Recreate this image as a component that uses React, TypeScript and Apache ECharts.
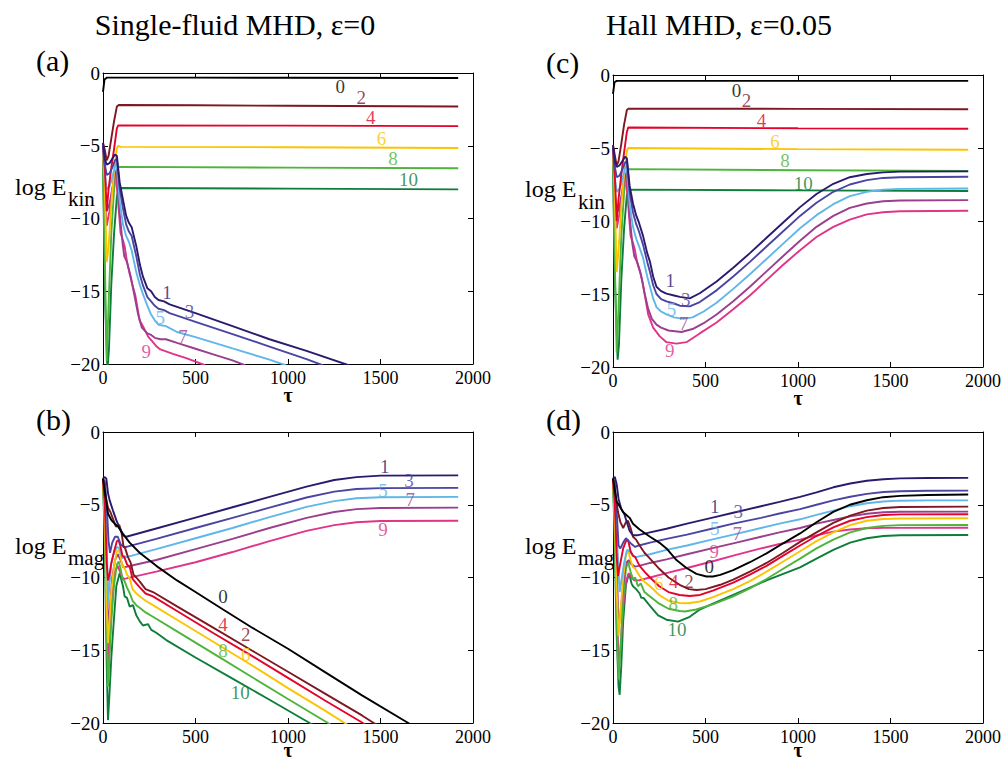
import React, { useEffect, useRef } from "react";
import * as echarts from "echarts";

const FONT = "Liberation Serif";

// colours of modes 0..10
const modeColors = [
  "#000000", "#2b1a6e", "#7d1822", "#4a44a2", "#e4032b", "#5fb6ea",
  "#fbc400", "#9a3e8e", "#4db43c", "#e03488", "#0e7d3a",
];

const xTicks = { min: 0, max: 2000, interval: 500 };
const yTicks = { min: -20, max: 0, interval: 5 };

const panelTitles = ["Single-fluid MHD, \u03b5=0", "Hall MHD, \u03b5=0.05"];
const panelLetters = ["(a)", "(b)", "(c)", "(d)"];

type Pt = [number, number];

// (a) log E_kin, single-fluid MHD, modes 0..10
const kinSingle: Pt[][] = [
  [[0,-1.3],[8,-0.45],[20,-0.32],[500,-0.32],[1000,-0.33],[1920,-0.34]],
  [[0,-4.8],[10,-5.9],[20,-6.3],[35,-6.2],[50,-5.9],[65,-5.6],[75,-5.7],[90,-7.5],[108,-8.7],[125,-9.8],[140,-10.3],[155,-10.6],[180,-11.9],[200,-13.2],[216,-14.0],[240,-14.8],[260,-15.0],[280,-15.4],[300,-15.6],[330,-15.7],[360,-15.9],[500,-16.5],[700,-17.4],[900,-18.3],[1100,-19.1],[1320,-20.05],[1360,-20.3]],
  [[0,-4.8],[10,-5.3],[20,-6.0],[30,-5.7],[45,-4.5],[60,-3.3],[75,-2.3],[85,-2.2],[500,-2.22],[1000,-2.25],[1920,-2.3]],
  [[0,-5.0],[10,-6.3],[20,-7.0],[35,-6.9],[50,-6.5],[65,-6.0],[75,-5.9],[90,-7.9],[108,-9.3],[125,-10.4],[140,-10.9],[155,-11.2],[180,-12.6],[200,-13.9],[216,-14.6],[240,-15.4],[260,-15.7],[280,-16.0],[300,-16.2],[330,-16.3],[360,-16.5],[500,-17.1],[700,-17.95],[900,-18.8],[1100,-19.66],[1180,-20.05],[1220,-20.3]],
  [[0,-5.0],[10,-6.5],[20,-9.5],[30,-8.0],[45,-6.5],[60,-5.2],[75,-3.8],[82,-3.6],[1000,-3.62],[1920,-3.65]],
  [[0,-5.2],[10,-7.0],[20,-8.0],[35,-7.8],[50,-7.2],[65,-6.4],[75,-6.2],[90,-8.8],[108,-10.4],[125,-11.2],[140,-11.6],[155,-12.2],[180,-13.7],[200,-14.6],[216,-15.2],[240,-16.0],[260,-16.6],[280,-17.0],[300,-17.3],[340,-17.4],[400,-17.8],[500,-18.15],[700,-18.93],[900,-19.7],[980,-20.05],[1020,-20.3]],
  [[0,-5.3],[10,-8],[20,-13],[30,-12],[45,-9],[60,-6.8],[75,-5.2],[82,-5.0],[95,-5.08],[1000,-5.1],[1920,-5.15]],
  [[0,-5.3],[10,-8],[20,-9.5],[35,-9],[50,-8],[65,-7],[75,-6.6],[90,-9.6],[105,-11.6],[115,-12.6],[130,-13.0],[150,-14.0],[170,-15.3],[190,-16.6],[210,-17.5],[240,-17.9],[260,-18.0],[280,-18.2],[310,-18.3],[340,-18.3],[400,-18.55],[500,-18.95],[600,-19.35],[700,-19.75],[760,-20.05],[800,-20.3]],
  [[0,-6.0],[10,-13],[20,-19.8],[30,-16],[45,-11],[60,-8],[75,-6.6],[85,-6.45],[1000,-6.5],[1920,-6.55]],
  [[0,-5.5],[10,-8.5],[20,-10.5],[35,-9.5],[50,-8],[62,-6.9],[70,-7.2],[81,-8.7],[95,-11.0],[108,-11.5],[117,-11.9],[130,-13.0],[144,-13.8],[160,-14.6],[175,-15.3],[198,-17.0],[216,-17.4],[243,-18.1],[270,-18.5],[290,-18.8],[310,-19.0],[378,-19.3],[450,-19.6],[545,-20.05],[580,-20.3]],
  [[0,-6.5],[12,-16],[24,-20.4],[32,-19],[45,-14.5],[60,-11],[75,-8.5],[85,-7.9],[1000,-7.95],[1920,-8.0]],
];

// (b) log E_mag, single-fluid MHD
const magSingle: Pt[][] = [
  [[0,-3.2],[27,-5.6],[45,-6.05],[63,-6.3],[81,-6.5],[108,-7.0],[144,-7.6],[198,-8.3],[288,-9.2],[400,-10.2],[500,-11.0],[649,-12.2],[800,-13.4],[1000,-14.9],[1200,-16.5],[1400,-18.1],[1650,-20.0],[1700,-20.4]],
  [[0,-3.2],[10,-3.1],[18,-3.2],[27,-4.2],[36,-4.7],[54,-5.4],[72,-6.06],[90,-6.6],[108,-7.1],[126,-7.2],[288,-6.63],[500,-5.88],[700,-5.17],[900,-4.46],[1100,-3.75],[1250,-3.3],[1370,-3.1],[1500,-3.0],[1920,-2.98]],
  [[0,-3.2],[15,-4.5],[27,-5.2],[40,-5.5],[55,-6.0],[70,-6.5],[88,-6.4],[100,-6.9],[110,-7.8],[120,-8.0],[135,-8.6],[150,-9.0],[165,-9.8],[180,-10.0],[200,-10.3],[230,-10.8],[270,-11.0],[400,-11.98],[600,-13.48],[800,-14.98],[1000,-16.48],[1200,-17.98],[1400,-19.48],[1470,-20.05],[1510,-20.3]],
  [[0,-3.2],[10,-3.4],[20,-5],[30,-7.5],[38,-8.3],[50,-7.6],[65,-7.2],[80,-7.2],[95,-7.7],[110,-7.9],[126,-7.9],[288,-7.35],[500,-6.6],[700,-5.9],[900,-5.2],[1100,-4.5],[1250,-4.1],[1370,-3.92],[1500,-3.86],[1920,-3.84]],
  [[0,-3.2],[10,-5],[20,-9],[27,-10.2],[35,-9.8],[45,-9.0],[60,-8.2],[75,-7.5],[85,-7.45],[95,-7.9],[105,-8.5],[115,-8.6],[130,-9.1],[145,-9.3],[160,-10.1],[180,-10.4],[200,-10.7],[230,-11.1],[270,-11.3],[400,-12.3],[600,-13.85],[800,-15.35],[1000,-16.9],[1200,-18.45],[1405,-20.0],[1450,-20.35]],
  [[0,-3.2],[10,-4],[20,-7],[27,-11.8],[35,-10.5],[45,-9],[60,-8.3],[75,-7.9],[90,-8.0],[105,-8.7],[115,-8.5],[126,-8.6],[288,-8.05],[500,-7.3],[700,-6.6],[900,-5.85],[1100,-5.15],[1250,-4.75],[1370,-4.55],[1500,-4.48],[1920,-4.46]],
  [[0,-3.2],[10,-6],[20,-12],[27,-14.5],[35,-13],[45,-11],[60,-9.2],[75,-8.2],[85,-8.1],[95,-8.6],[105,-9.2],[115,-9.3],[130,-9.8],[145,-10.1],[160,-10.8],[180,-11.1],[200,-11.3],[230,-11.6],[270,-11.9],[400,-12.9],[600,-14.45],[800,-16.0],[1000,-17.6],[1200,-19.15],[1306,-20.0],[1350,-20.35]],
  [[0,-3.2],[10,-5],[20,-9],[28,-13.8],[38,-12],[50,-10],[65,-8.8],[80,-8.4],[95,-8.8],[110,-9.3],[126,-9.26],[288,-8.8],[500,-8.05],[700,-7.35],[900,-6.6],[1100,-5.9],[1250,-5.5],[1370,-5.3],[1500,-5.22],[1920,-5.2]],
  [[0,-3.2],[10,-7],[20,-14],[27,-17.5],[35,-15.5],[45,-13],[60,-10.5],[75,-9.1],[85,-8.9],[95,-9.4],[105,-10.1],[115,-10.2],[130,-10.7],[145,-11.1],[160,-11.6],[180,-11.9],[200,-12.1],[230,-12.4],[270,-12.7],[400,-13.7],[600,-15.25],[800,-16.8],[1000,-18.35],[1216,-20.0],[1260,-20.35]],
  [[0,-3.2],[10,-6],[20,-11],[28,-16.8],[38,-14],[50,-11],[65,-9.6],[80,-9.2],[95,-9.7],[110,-10.1],[126,-10.06],[288,-9.6],[500,-8.95],[700,-8.25],[900,-7.5],[1100,-6.8],[1250,-6.4],[1370,-6.2],[1500,-6.12],[1920,-6.1]],
  [[0,-3.2],[10,-8],[20,-16],[27,-19.8],[35,-18],[45,-15.5],[54,-13.8],[72,-10.6],[90,-9.7],[108,-10.6],[117,-11.3],[130,-11.4],[144,-12.0],[162,-11.9],[180,-12.6],[198,-13.0],[216,-13.3],[243,-13.2],[261,-13.6],[288,-13.8],[342,-14.3],[500,-15.5],[700,-16.95],[900,-18.4],[1117,-20.0],[1160,-20.3]],
];

// (c) log E_kin, Hall MHD
const kinHall: Pt[][] = [
  [[0,-1.3],[8,-0.5],[20,-0.4],[1000,-0.4],[1920,-0.4]],
  [[0,-4.8],[10,-5.9],[20,-6.3],[35,-6.2],[50,-5.9],[65,-5.6],[75,-5.7],[90,-7.6],[108,-8.8],[125,-9.6],[140,-10.1],[162,-11.0],[185,-12.2],[200,-12.8],[217,-13.8],[235,-14.5],[260,-14.8],[289,-14.97],[330,-15.1],[361,-15.2],[415,-15.3],[469,-14.95],[560,-14.15],[650,-13.2],[740,-12.2],[830,-11.15],[920,-10.1],[1011,-9.05],[1100,-8.15],[1191,-7.45],[1280,-7.0],[1372,-6.78],[1460,-6.67],[1552,-6.62],[1920,-6.6]],
  [[0,-4.8],[10,-5.5],[20,-6.2],[30,-5.9],[45,-4.7],[60,-3.4],[75,-2.4],[85,-2.3],[1000,-2.32],[1920,-2.35]],
  [[0,-5.0],[10,-6.3],[20,-7.0],[35,-6.9],[50,-6.5],[65,-6.0],[75,-5.9],[90,-8.0],[108,-9.4],[125,-10.2],[140,-10.7],[162,-11.6],[185,-12.8],[200,-13.5],[217,-14.4],[235,-15.0],[260,-15.35],[289,-15.5],[330,-15.65],[361,-15.8],[415,-15.85],[469,-15.55],[560,-14.75],[650,-13.8],[740,-12.8],[830,-11.75],[920,-10.7],[1011,-9.65],[1100,-8.75],[1191,-8.0],[1280,-7.5],[1372,-7.2],[1460,-7.05],[1552,-7.0],[1920,-6.97]],
  [[0,-5.0],[10,-7],[20,-10],[30,-8.5],[45,-6.8],[60,-5.3],[75,-3.9],[82,-3.6],[1000,-3.65],[1920,-3.68]],
  [[0,-5.2],[10,-7],[20,-8],[35,-7.8],[50,-7.2],[65,-6.4],[75,-6.2],[90,-8.9],[108,-10.4],[125,-11.2],[140,-11.7],[162,-12.5],[185,-13.8],[200,-14.5],[217,-15.3],[235,-15.9],[260,-16.2],[289,-16.4],[330,-16.6],[380,-16.7],[430,-16.6],[490,-16.2],[560,-15.6],[650,-14.65],[740,-13.65],[830,-12.6],[920,-11.55],[1011,-10.5],[1100,-9.6],[1191,-8.85],[1280,-8.3],[1372,-8.0],[1460,-7.85],[1552,-7.8],[1920,-7.77]],
  [[0,-5.2],[10,-8.5],[20,-13.5],[30,-12],[45,-9],[60,-6.8],[75,-5.2],[82,-5.0],[1000,-5.08],[1920,-5.12]],
  [[0,-5.3],[10,-8],[20,-9.5],[35,-9],[50,-8],[65,-7],[75,-6.6],[90,-9.7],[105,-11.6],[115,-12.4],[130,-12.8],[150,-13.6],[170,-14.9],[190,-16.0],[210,-16.7],[235,-17.1],[260,-17.3],[300,-17.5],[370,-17.6],[430,-17.4],[490,-17.0],[560,-16.4],[650,-15.5],[740,-14.5],[830,-13.45],[920,-12.4],[1011,-11.35],[1100,-10.4],[1191,-9.65],[1280,-9.1],[1372,-8.8],[1460,-8.65],[1552,-8.6],[1920,-8.57]],
  [[0,-5.8],[10,-13],[20,-19],[30,-16],[45,-11],[60,-8],[75,-6.6],[85,-6.45],[1000,-6.52],[1920,-6.57]],
  [[0,-5.5],[10,-8.5],[20,-10.5],[35,-9.5],[50,-8],[62,-6.9],[70,-7.2],[81,-8.7],[95,-11.0],[108,-11.5],[117,-11.9],[130,-12.8],[144,-13.4],[160,-14.2],[175,-15.3],[190,-16.4],[217,-17.3],[253,-17.9],[289,-18.3],[343,-18.4],[397,-18.3],[469,-17.7],[560,-16.95],[650,-16.05],[740,-15.1],[830,-14.05],[920,-13.0],[1011,-12.0],[1100,-11.1],[1191,-10.4],[1280,-9.9],[1372,-9.55],[1460,-9.4],[1552,-9.33],[1920,-9.3]],
  [[0,-6.3],[10,-14],[25,-19.5],[32,-18.5],[45,-14],[60,-10.5],[75,-8.2],[85,-7.85],[1000,-7.9],[1920,-7.95]],
];

// (d) log E_mag, Hall MHD
const magHall: Pt[][] = [
  [[0,-3.2],[20,-4.8],[36,-5.1],[54,-5.5],[72,-5.7],[90,-5.9],[108,-6.3],[144,-6.7],[200,-7.2],[250,-7.6],[289,-8.0],[343,-8.8],[397,-9.35],[451,-9.75],[505,-9.93],[541,-9.93],[580,-9.82],[650,-9.5],[740,-8.95],[830,-8.34],[920,-7.65],[1011,-6.97],[1100,-6.2],[1191,-5.49],[1280,-5.0],[1372,-4.69],[1460,-4.48],[1552,-4.39],[1700,-4.33],[1920,-4.3]],
  [[0,-3.2],[10,-3.1],[20,-3.6],[30,-4.6],[45,-5.3],[60,-5.6],[75,-6.2],[90,-6.8],[108,-7.1],[130,-7.1],[200,-6.9],[289,-6.65],[400,-6.3],[550,-5.85],[650,-5.55],[800,-5.1],[900,-4.8],[1011,-4.46],[1100,-4.15],[1191,-3.8],[1282,-3.54],[1372,-3.35],[1462,-3.25],[1552,-3.19],[1700,-3.16],[1920,-3.15]],
  [[0,-3.2],[15,-4.5],[27,-5.5],[40,-6.2],[55,-6.6],[70,-6.2],[81,-6.1],[95,-6.6],[108,-7.2],[125,-7.4],[144,-7.8],[170,-8.3],[200,-8.7],[250,-9.4],[300,-10.0],[360,-10.5],[410,-10.8],[451,-10.86],[500,-10.8],[580,-10.5],[650,-10.15],[740,-9.6],[830,-9.0],[920,-8.3],[1011,-7.55],[1100,-6.9],[1191,-6.25],[1282,-5.75],[1372,-5.4],[1462,-5.22],[1552,-5.15],[1920,-5.13]],
  [[0,-3.2],[10,-3.5],[20,-5.5],[30,-7.8],[40,-8.0],[55,-7.6],[70,-7.3],[85,-7.5],[100,-7.7],[120,-7.9],[140,-7.8],[200,-7.6],[289,-7.35],[400,-7.05],[550,-6.6],[650,-6.3],[800,-5.9],[900,-5.6],[1011,-5.3],[1100,-5.0],[1191,-4.7],[1282,-4.45],[1372,-4.25],[1462,-4.12],[1552,-4.07],[1700,-4.04],[1920,-4.03]],
  [[0,-3.2],[10,-5],[20,-8.5],[27,-9.9],[40,-9.0],[55,-8.0],[70,-7.5],[81,-7.4],[95,-8.2],[108,-8.5],[120,-8.6],[144,-9.2],[170,-9.6],[200,-10.0],[250,-10.6],[300,-11.0],[360,-11.2],[415,-11.27],[470,-11.2],[540,-10.9],[650,-10.35],[740,-9.8],[830,-9.2],[920,-8.5],[1011,-7.8],[1100,-7.15],[1191,-6.55],[1282,-6.1],[1372,-5.85],[1462,-5.7],[1552,-5.66],[1920,-5.65]],
  [[0,-3.2],[10,-4],[20,-7],[36,-11.0],[48,-10],[60,-9],[75,-8.1],[90,-8.2],[108,-8.5],[125,-8.6],[140,-8.55],[200,-8.4],[289,-8.1],[400,-7.8],[550,-7.35],[650,-7.05],[800,-6.6],[900,-6.3],[1011,-6.0],[1100,-5.7],[1191,-5.4],[1282,-5.1],[1372,-4.9],[1462,-4.78],[1552,-4.72],[1700,-4.7],[1920,-4.7]],
  [[0,-3.2],[10,-6],[20,-11],[30,-14],[40,-12.5],[55,-10],[70,-8.5],[81,-8.1],[95,-8.8],[108,-9.3],[120,-9.4],[144,-9.9],[170,-10.3],[200,-10.6],[250,-11.2],[300,-11.6],[360,-11.75],[406,-11.77],[470,-11.65],[540,-11.35],[650,-10.8],[740,-10.25],[830,-9.6],[920,-8.9],[1011,-8.2],[1100,-7.5],[1191,-6.9],[1282,-6.4],[1372,-6.1],[1462,-5.98],[1552,-5.94],[1920,-5.93]],
  [[0,-3.2],[10,-5],[20,-9],[30,-13.5],[40,-12.5],[55,-10.5],[70,-9.0],[85,-8.8],[100,-9.1],[120,-9.25],[140,-9.2],[200,-9.0],[289,-8.75],[400,-8.4],[550,-7.95],[650,-7.65],[800,-7.2],[900,-6.9],[1011,-6.6],[1100,-6.3],[1191,-6.05],[1282,-5.8],[1372,-5.62],[1462,-5.52],[1552,-5.48],[1920,-5.47]],
  [[0,-3.2],[10,-7],[20,-13],[30,-17],[40,-15],[55,-11.5],[70,-9.4],[81,-8.9],[95,-9.6],[108,-10.1],[120,-10.0],[135,-10.6],[150,-10.4],[170,-11.0],[200,-11.3],[250,-11.8],[300,-12.15],[360,-12.3],[388,-12.34],[450,-12.2],[540,-11.85],[650,-11.3],[740,-10.75],[830,-10.1],[920,-9.4],[1011,-8.7],[1100,-8.0],[1191,-7.4],[1282,-6.9],[1372,-6.6],[1462,-6.45],[1552,-6.4],[1920,-6.39]],
  [[0,-3.2],[10,-6],[20,-11],[30,-16],[40,-15],[55,-12],[70,-10.3],[85,-9.7],[100,-10.0],[115,-10.2],[140,-10.2],[200,-10.0],[289,-9.7],[400,-9.35],[550,-8.85],[650,-8.5],[800,-8.0],[900,-7.7],[1011,-7.4],[1100,-7.1],[1191,-6.85],[1282,-6.7],[1372,-6.62],[1462,-6.59],[1920,-6.58]],
  [[0,-3.2],[10,-8],[20,-14],[30,-17.5],[36,-18.06],[45,-16],[55,-13],[70,-10.5],[87,-9.7],[100,-10.4],[108,-10.6],[125,-10.8],[144,-11.1],[153,-11.4],[165,-11.4],[190,-11.8],[217,-12.2],[244,-12.6],[289,-12.9],[352,-13.03],[415,-12.7],[469,-12.2],[540,-11.8],[650,-11.2],[740,-10.7],[830,-10.2],[920,-9.75],[1011,-9.3],[1100,-8.7],[1191,-8.1],[1282,-7.6],[1372,-7.3],[1462,-7.15],[1552,-7.1],[1920,-7.08]],
];

type Lbl = [number, number, string];
const labelsA: Lbl[] = [[1283,-0.92,"0"],[1396,-1.65,"2"],[1447,-3.03,"4"],[1505,-4.47,"6"],[1568,-5.9,"8"],[1652,-7.34,"10"],[346,-15.1,"1"],[468,-16.4,"3"],[310,-16.8,"5"],[432,-18.1,"7"],[234,-19.15,"9"]];
const labelsB: Lbl[] = [[1523,-2.4,"1"],[1654,-3.31,"3"],[1514,-4.0,"5"],[1661,-4.64,"7"],[1514,-6.7,"9"],[649,-11.3,"0"],[649,-13.26,"4"],[771,-13.94,"2"],[649,-15.0,"8"],[771,-15.3,"6"],[742,-17.9,"10"]];
const labelsC: Lbl[] = [[668,-1.07,"0"],[722,-1.76,"2"],[803,-3.13,"4"],[875,-4.53,"6"],[930,-5.83,"8"],[1029,-7.43,"10"],[310,-14.1,"1"],[393,-15.4,"3"],[316,-16.07,"5"],[383,-17.0,"7"],[307,-18.86,"9"]];
const labelsD: Lbl[] = [[550,-5.14,"1"],[677,-5.49,"3"],[550,-6.63,"5"],[671,-6.97,"7"],[547,-8.23,"9"],[520,-9.26,"0"],[247,-10.4,"6"],[328,-10.3,"4"],[411,-10.3,"2"],[325,-11.77,"8"],[346,-13.6,"10"]];

const panels = [
  { grid: { left: 103, top: 73, width: 370, height: 291 }, lines: kinSingle, labels: labelsA, sub: "kin", letter: panelLetters[0] },
  { grid: { left: 103, top: 432, width: 370, height: 291 }, lines: magSingle, labels: labelsB, sub: "mag", letter: panelLetters[1] },
  { grid: { left: 613, top: 75, width: 370, height: 292 }, lines: kinHall, labels: labelsC, sub: "kin", letter: panelLetters[2] },
  { grid: { left: 613, top: 432, width: 370, height: 291 }, lines: magHall, labels: labelsD, sub: "mag", letter: panelLetters[3] },
];

const fmtY = (v: number) => (v < 0 ? "\u2212" + Math.abs(v) : String(v));
const fmtX = (v: number) => String(v);

export default function App() {
  const ref = useRef<HTMLDivElement>(null);
  useEffect(() => {
    if (!ref.current) return;
    const chart = echarts.init(ref.current, undefined, { renderer: "svg" });
    const grids: any[] = [];
    const xAxes: any[] = [];
    const yAxes: any[] = [];
    const series: any[] = [];
    const graphic: any[] = [];
    const axisLine = { show: true, onZero: false, lineStyle: { color: "#000", width: 1 } };
    const tick = { show: true, inside: true, length: 5, lineStyle: { color: "#000", width: 1 } };
    const txt = (text: string, x: number, y: number, size: number, weight = "normal", align = "left", va = "top") => ({
      type: "text", x, y, silent: true,
      style: { text, x: 0, y: 0, fontFamily: FONT, fontSize: size, fontWeight: weight, fill: "#000", align, verticalAlign: va },
    });
    panels.forEach((p, g) => {
      grids.push({ ...p.grid, containLabel: false });
      xAxes.push({ type: "value", gridIndex: g, position: "bottom", ...xTicks, axisLine, axisTick: tick, splitLine: { show: false },
        axisLabel: { color: "#000", fontFamily: FONT, fontSize: 18, margin: 5, formatter: fmtX } });
      xAxes.push({ type: "value", gridIndex: g, position: "top", ...xTicks, axisLine, axisTick: tick, splitLine: { show: false }, axisLabel: { show: false } });
      yAxes.push({ type: "value", gridIndex: g, position: "left", ...yTicks, axisLine, axisTick: tick, splitLine: { show: false },
        axisLabel: { color: "#000", fontFamily: FONT, fontSize: 19, margin: 3, formatter: fmtY } });
      yAxes.push({ type: "value", gridIndex: g, position: "right", ...yTicks, axisLine, axisTick: tick, splitLine: { show: false }, axisLabel: { show: false } });
      p.lines.forEach((d, m) => {
        series.push({
          type: "line", xAxisIndex: 2 * g, yAxisIndex: 2 * g, data: d, showSymbol: false, symbol: "none",
          clip: true, silent: true, lineStyle: { color: modeColors[m], width: 1.9 }, itemStyle: { color: modeColors[m] },
          z: 2 + (10 - m) * 0.01,
        });
      });
      series.push({
        type: "scatter", xAxisIndex: 2 * g, yAxisIndex: 2 * g, symbolSize: 0, silent: true, z: 5,
        data: p.labels.map(([x, y, t]) => ({ value: [x, y], name: t, label: { color: modeColors[Number(t)] } })),
        label: { show: true, position: "inside", formatter: (q: any) => q.name, fontFamily: FONT, fontSize: 19 },
      });
      const left = p.grid.left;
      const y10 = p.grid.top + p.grid.height / 2;
      const xName = left - 88;
      const bottom = p.grid.top + p.grid.height;
      graphic.push(txt("log E", xName, y10 - 44, 24));
      graphic.push(txt(p.sub, xName + 53, y10 - 30, 21));
      graphic.push(txt(p.letter, left - 67, p.grid.top - 13, 30, "normal", "left", "middle"));
      graphic.push(txt("\u03c4", left + p.grid.width / 2, Math.min(bottom + 31, 750), 20, "bold", "center", "middle"));
    });
    graphic.push(txt(panelTitles[0], 235, 24, 30, "normal", "center", "middle"));
    graphic.push(txt(panelTitles[1], 719, 24, 30, "normal", "center", "middle"));

    chart.setOption({
      animation: false,
      backgroundColor: "#fff",
      textStyle: { fontFamily: FONT },
      grid: grids,
      xAxis: xAxes,
      yAxis: yAxes,
      series,
      graphic,
    });
    return () => chart.dispose();
  }, []);
  return <div ref={ref} style={{ position: "absolute", left: 0, top: 0, width: 1004, height: 762 }} />;
}
